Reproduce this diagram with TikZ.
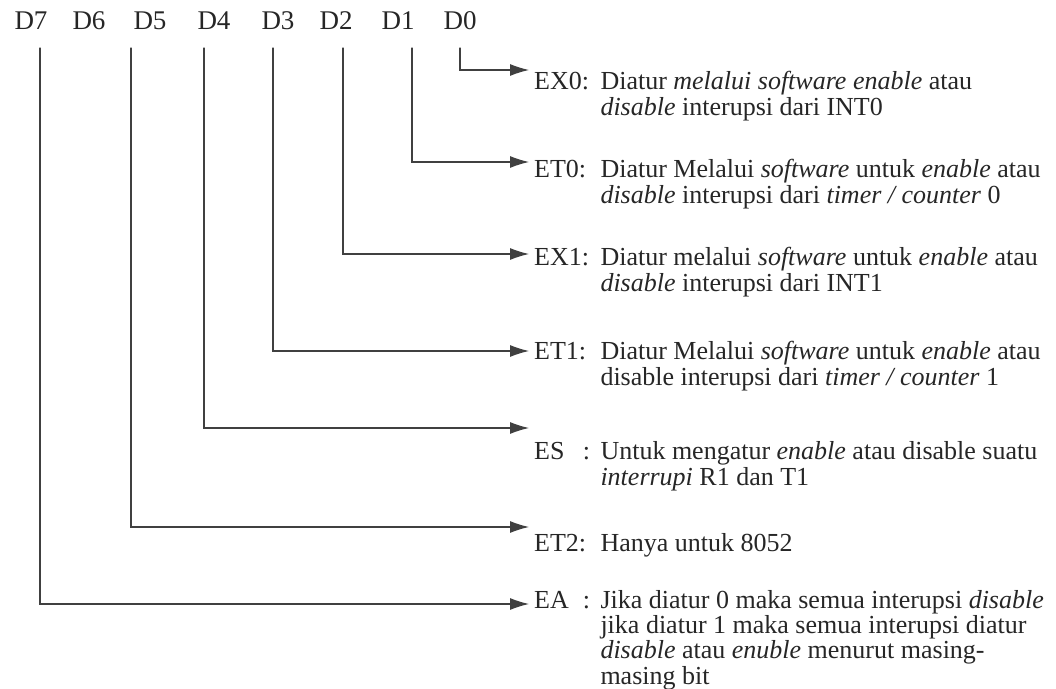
\documentclass[tikz,border=0pt]{standalone}
\usepackage{fontspec}
\setmainfont{Liberation Serif}
\usetikzlibrary{arrows.meta}

\tikzset{
  bitlabel/.style={anchor=base, inner sep=0pt, text=black!85,
    font=\fontsize{27}{30}\selectfont},
  bitdesc/.style={anchor=base west, inner sep=0pt, text=black!85,
    font=\fontsize{26}{24.5}\selectfont},
  sig/.style={-{Latex[length=19pt,width=12pt]}, line width=1.1pt, draw=black!75},
}
\newcommand{\bitname}[1]{\makebox[2.55em][l]{#1}}

\begin{document}
\begin{tikzpicture}[x=1pt, y=1pt, line cap=round]

\useasboundingbox (0,0) rectangle (1056,688);

%% Nama bit register IE.

\foreach \n/\x in {7/31,6/89,5/150,4/214,3/278,2/336,1/398,0/460}
  \node[bitlabel] (d\n) at (\x,658) {D\n};

%% Awal garis di bawah tiap bit, dan ujung panah.

\foreach \n/\x/\y in {0/460/618,1/412/526,2/343/434,3/273/337,4/204/260,5/131/161,7/40/84}{
  \coordinate (b\n) at (\x,640);
  \coordinate (tip\n) at (529,\y);
}

\draw[sig] (b0) |- (tip0);
\draw[sig] (b1) |- (tip1);
\draw[sig] (b2) |- (tip2);
\draw[sig] (b3) |- (tip3);
\draw[sig] (b4) |- (tip4);
\draw[sig] (b5) |- (tip5);
\draw[sig] (b7) |- (tip7);

%% Keterangan tiap bit.

\node[bitdesc] (ex0) at (534,598) {\bitname{EX0:}\begin{tabular}[t]{@{}l@{}}
  Diatur \textit{melalui software enable} atau\\
  \textit{disable} interupsi dari INT0\end{tabular}};
\node[bitdesc] (et0) at (534,510) {\bitname{ET0:}\begin{tabular}[t]{@{}l@{}}
  Diatur Melalui \textit{software} untuk \textit{enable} atau\\
  \textit{disable} interupsi dari \textit{timer / counter} 0\end{tabular}};
\node[bitdesc] (ex1) at (534,422) {\bitname{EX1:}\begin{tabular}[t]{@{}l@{}}
  Diatur melalui \textit{software} untuk \textit{enable} atau\\
  \textit{disable} interupsi dari INT1\end{tabular}};
\node[bitdesc] (et1) at (534,328) {\bitname{ET1:}\begin{tabular}[t]{@{}l@{}}
  Diatur Melalui \textit{software} untuk \textit{enable} atau\\
  disable interupsi dari \textit{timer / counter} 1\end{tabular}};
\node[bitdesc] (es) at (534,228) {\bitname{ES\hfill:\hspace{.4em}}\begin{tabular}[t]{@{}l@{}}
  Untuk mengatur \textit{enable} atau disable suatu\\
  \textit{interrupi} R1 dan T1\end{tabular}};
\node[bitdesc] (et2) at (534,137) {\bitname{ET2:}Hanya untuk 8052};
\node[bitdesc] (ea) at (534,80) {\bitname{EA\hfill:\hspace{.4em}}\begin{tabular}[t]{@{}l@{}}
  Jika diatur 0 maka semua interupsi \textit{disable}\\
  jika diatur 1 maka semua interupsi diatur\\
  \textit{disable} atau \textit{enuble} menurut masing-\\
  masing bit\end{tabular}};

\end{tikzpicture}
\end{document}
